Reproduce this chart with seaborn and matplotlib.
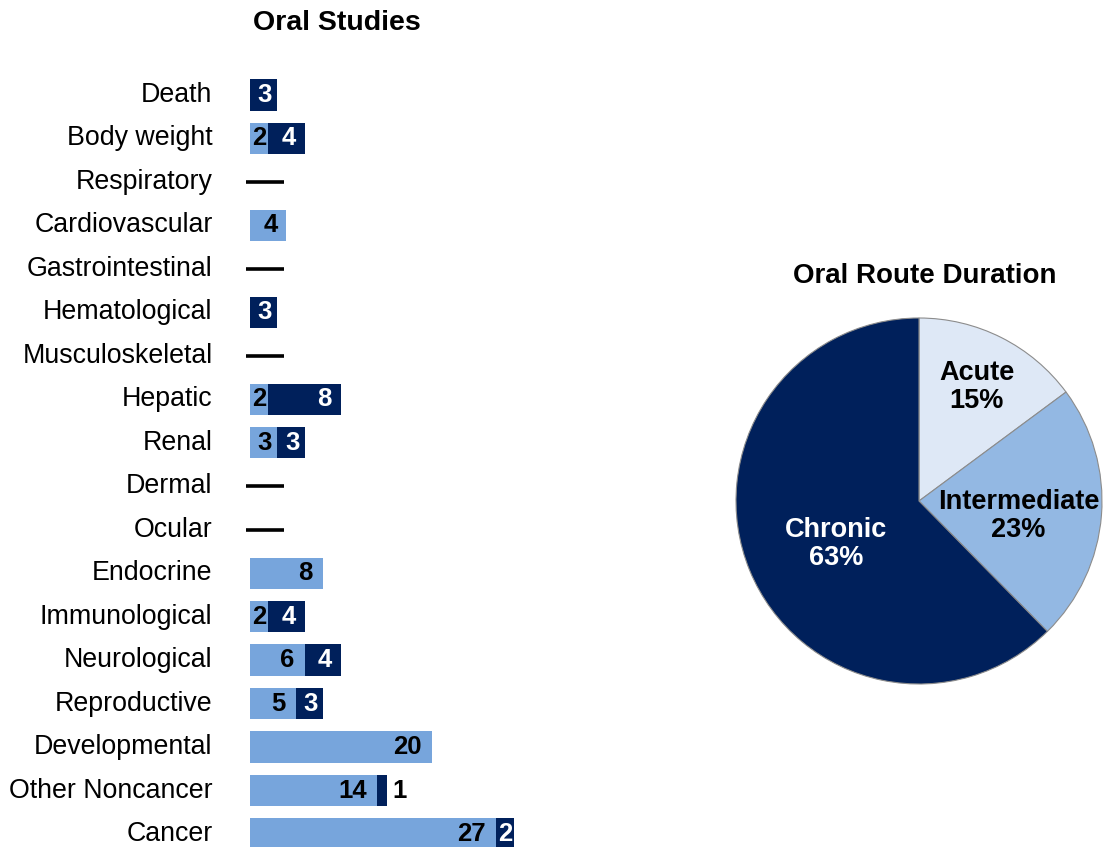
import numpy as np
import pandas as pd
import matplotlib
matplotlib.use("Agg")
import matplotlib.pyplot as plt
import seaborn as sns

categories = ["Death", "Body weight", "Respiratory", "Cardiovascular", "Gastrointestinal",
              "Hematological", "Musculoskeletal", "Hepatic", "Renal", "Dermal", "Ocular",
              "Endocrine", "Immunological", "Neurological", "Reproductive", "Developmental",
              "Other Noncancer", "Cancer"]
light_vals = [0, 2, 0, 4, 0, 0, 0, 2, 3, 0, 0, 8, 2, 6, 5, 20, 14, 27]
dark_vals = [3, 4, 0, 0, 0, 3, 0, 8, 3, 0, 0, 0, 4, 4, 3, 0, 1, 2]
no_data = ["Respiratory", "Gastrointestinal", "Musculoskeletal", "Dermal", "Ocular"]

pie_labels = ["Acute", "Intermediate", "Chronic"]
pie_pcts = [15, 23, 63]

LIGHT = "#77A5DC"
DARK = "#00205B"
PIE_COLORS = ["#DEE8F6", "#93B8E3", "#00205B"]

sns.set_theme(style="white")
plt.rcParams["font.family"] = ["Liberation Sans", "DejaVu Sans"]
plt.rcParams["text.color"] = "black"

W, H = 1103, 847
fig = plt.figure(figsize=(W / 100, H / 100), dpi=100)

# ---- Bar chart ----
px_per_unit = 9.1
x0 = 250
xmax_units = 30
n = len(categories)
row_top = 95
row_step = (834 - 95) / (n - 1)
top_px = row_top - row_step / 2
ylim_bottom = (H - row_top) / row_step
ax = fig.add_axes([x0 / W, 0, xmax_units * px_per_unit / W, 1 - top_px / H])

df = pd.DataFrame({"cat": categories, "light": light_vals, "dark": dark_vals})
df["total"] = df["light"] + df["dark"]

sns.barplot(data=df, x="total", y="cat", orient="h", color=DARK, width=0.72,
            saturation=1, linewidth=0, ax=ax)
sns.barplot(data=df, x="light", y="cat", orient="h", color=LIGHT, width=0.72,
            saturation=1, linewidth=0, ax=ax)
ax.set_xlim(0, xmax_units)
ax.set_ylim(ylim_bottom, -0.5)
ax.set_xlabel("")
ax.set_ylabel("")
ax.set_xticks([])
for s in ax.spines.values():
    s.set_visible(False)
ax.tick_params(axis="y", length=0, pad=27, labelsize=19.3)
for lab in ax.get_yticklabels():
    lab.set_color("black")
    lab.set_verticalalignment("center")

PT = 0.72  # points per pixel
NUM_FS = 18.5
DIGIT_PX = NUM_FS * 1.389 * 0.556

for i, (c, lv, dv) in enumerate(zip(categories, light_vals, dark_vals)):
    if c in no_data:
        ax.plot([-0.44, 3.7], [i, i], color="black", lw=2.6, clip_on=False,
                solid_capstyle="butt")
        continue
    for val, start, col in [(lv, 0, "black"), (dv, lv, "white")]:
        if val <= 0:
            continue
        bar_px = val * px_per_unit
        text_px = len(str(val)) * DIGIT_PX
        end = start + val
        if bar_px < text_px + 2:
            ax.annotate(str(val), (end, i), xytext=(6 * PT, 0), textcoords="offset points",
                        ha="left", va="center", fontsize=NUM_FS, fontweight="bold",
                        color="black")
        else:
            off = min(10, (bar_px - text_px) * 0.4)
            ax.annotate(str(val), (end, i), xytext=(-off * PT, 0), textcoords="offset points",
                        ha="right", va="center", fontsize=NUM_FS, fontweight="bold",
                        color=col)

fig.text(337 / W, 1 - 23 / H, "Oral Studies", ha="center", va="center",
         fontsize=20.5, fontweight="bold")

# ---- Pie chart ----
cx, cy, r = 919, 501, 183
pax = fig.add_axes([(cx - r) / W, 1 - (cy + r) / H, 2 * r / W, 2 * r / H])
wedges, _ = pax.pie(pie_pcts, colors=PIE_COLORS, startangle=90, counterclock=False,
                    radius=1, wedgeprops=dict(edgecolor="#8C8C8C", linewidth=0.8))
pax.set_xlim(-1, 1)
pax.set_ylim(-1, 1)
pax.set_aspect("equal")
pax.axis("off")

label_r = [0.70, 0.55, 0.51]
label_dang = [0, -4, 5]
label_col = ["black", "black", "white"]
for w, lab, p, rr, da, col in zip(wedges, pie_labels, pie_pcts, label_r, label_dang, label_col):
    ang = np.deg2rad((w.theta1 + w.theta2) / 2 + da)
    pax.text(rr * np.cos(ang), rr * np.sin(ang), f"{lab}\n{p}%", ha="center", va="center",
             fontsize=19.5, fontweight="bold", color=col, linespacing=1.1)

fig.text(925 / W, 1 - 276 / H, "Oral Route Duration", ha="center", va="center",
         fontsize=20, fontweight="bold")

fig.savefig("out.png", dpi=100)
